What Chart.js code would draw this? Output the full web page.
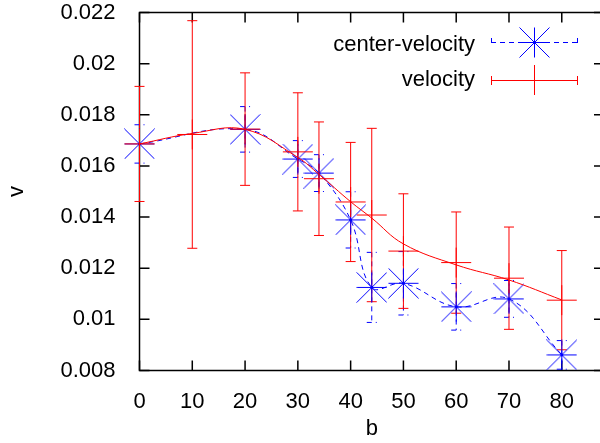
<!DOCTYPE html>
<html>
<head>
<meta charset="utf-8">
<script src="https://cdn.jsdelivr.net/npm/chart.js@4"></script>
<style>
  html, body { margin: 0; padding: 0; overflow: hidden; background: #fff; }
  canvas { display: block; }
</style>
</head>
<body>
<canvas id="chart" width="610" height="443" style="width:610px;height:443px"></canvas>
<script>
// ----- DATA -----
// velocity: points with y error bars, plus the smoothed red curve read along its path
const bVelocity = [0, 10, 20, 30, 34, 40, 44, 50, 60, 70, 80]
const velocity = [0.01686, 0.01723, 0.01744, 0.01655, 0.01550, 0.01459, 0.01408, 0.01267, 0.01222, 0.01161, 0.01075]
const velocityErr = [0.00225, 0.00445, 0.00220, 0.00231, 0.00222, 0.00233, 0.00339, 0.00224, 0.00198, 0.00200, 0.00194]
const velocityCurve = [0.01686, 0.01727, 0.01743, 0.01633, 0.01567, 0.01460, 0.01396, 0.01295, 0.01213, 0.01154, 0.01076]

// center-velocity: points with y error bars joined by a dashed line
const bCenter = [0, 20, 30, 34, 40, 44, 50, 60, 70, 80]
const centerVelocity = [0.01686, 0.01743, 0.01627, 0.01572, 0.01389, 0.01125, 0.01141, 0.01049, 0.01080, 0.00861]
const centerVelocityErr = [0.00075, 0.00089, 0.00072, 0.00072, 0.00110, 0.00137, 0.00124, 0.00091, 0.00072, 0.00056]

const yTickLabels = ['0.008', '0.01', '0.012', '0.014', '0.016', '0.018', '0.02', '0.022']

const RED = '#ff0000'
const BLUE = '#0000ff'
const FONT = '"Liberation Sans", Arial, sans-serif'

Chart.defaults.font.family = FONT
Chart.defaults.font.size = 22
Chart.defaults.color = '#000'

// ----- HELPERS -----
const toXY = (xs, ys) => xs.map((x, i) => ({ x, y: ys[i] }))

// gnuplot style "*" point: + and x, diagonals reaching the square corners
function makeStar(r, color) {
  const c = document.createElement('canvas')
  const s = 2 * r + 1
  c.width = s
  c.height = s
  const g = c.getContext('2d')
  g.strokeStyle = color
  g.lineWidth = 1
  const m = r + 0.5
  g.beginPath()
  g.moveTo(0.5, m); g.lineTo(s - 0.5, m)
  g.moveTo(m, 0.5); g.lineTo(m, s - 0.5)
  g.moveTo(0.5, 0.5); g.lineTo(s - 0.5, s - 0.5)
  g.moveTo(s - 0.5, 0.5); g.lineTo(0.5, s - 0.5)
  g.stroke()
  return c
}
const starImg = makeStar(15, BLUE)

function drawErrorBars(ctx, xs, ys, bs, vals, errs, color, dash) {
  ctx.save()
  ctx.strokeStyle = color
  ctx.lineWidth = 1
  ctx.setLineDash(dash)
  bs.forEach((b, i) => {
    const px = xs.getPixelForValue(b)
    const top = ys.getPixelForValue(vals[i] + errs[i])
    const bot = ys.getPixelForValue(vals[i] - errs[i])
    ctx.beginPath()
    ctx.moveTo(px, top); ctx.lineTo(px, bot)
    ctx.moveTo(px - 5, top); ctx.lineTo(px + 5, top)
    ctx.moveTo(px - 5, bot); ctx.lineTo(px + 5, bot)
    ctx.stroke()
  })
  ctx.restore()
}

// ----- PLUGINS -----
// border with inward ticks on all four sides
const frame = {
  id: 'frame',
  beforeDatasetsDraw(chart) {
    const { ctx, chartArea: a, scales: { x, y } } = chart
    ctx.save()
    ctx.strokeStyle = '#000'
    ctx.lineWidth = 1.5
    ctx.strokeRect(a.left, a.top, a.right - a.left, a.bottom - a.top)
    ctx.beginPath()
    x.ticks.forEach((t) => {
      const px = x.getPixelForValue(t.value)
      ctx.moveTo(px, a.bottom); ctx.lineTo(px, a.bottom - 10)
      ctx.moveTo(px, a.top); ctx.lineTo(px, a.top + 10)
    })
    y.ticks.forEach((t) => {
      const py = y.getPixelForValue(t.value)
      ctx.moveTo(a.left, py); ctx.lineTo(a.left + 10, py)
      ctx.moveTo(a.right, py); ctx.lineTo(a.right - 10, py)
    })
    ctx.stroke()
    ctx.restore()
  },
}

const errorBars = {
  id: 'errorBars',
  beforeDatasetsDraw(chart) {
    const { ctx, scales: { x, y } } = chart
    drawErrorBars(ctx, x, y, bCenter, centerVelocity, centerVelocityErr, BLUE, [5, 4])
    drawErrorBars(ctx, x, y, bVelocity, velocity, velocityErr, RED, [])
  },
}

// gnuplot style key: right aligned text, then a line sample with caps and the point
const key = {
  id: 'key',
  afterDraw(chart) {
    const { ctx } = chart
    const rows = [
      { text: 'center-velocity', y: 42, ty: 45, color: BLUE, dash: [5, 4] },
      { text: 'velocity', y: 80, ty: 80, color: RED, dash: [] },
    ]
    const x0 = 491, x1 = 577, xm = 534
    ctx.save()
    ctx.font = '22px ' + FONT
    ctx.fillStyle = '#000'
    ctx.textAlign = 'right'
    ctx.textBaseline = 'middle'
    rows.forEach((r) => {
      ctx.fillText(r.text, 475, r.ty)
      ctx.strokeStyle = r.color
      ctx.lineWidth = 1
      ctx.setLineDash(r.dash)
      ctx.beginPath()
      ctx.moveTo(x0, r.y + 0.5); ctx.lineTo(x1, r.y + 0.5)
      ctx.moveTo(x0 + 0.5, r.y - 4); ctx.lineTo(x0 + 0.5, r.y + 5)
      ctx.moveTo(x1 + 0.5, r.y - 4); ctx.lineTo(x1 + 0.5, r.y + 5)
      ctx.stroke()
      ctx.setLineDash([])
      if (r.color === BLUE) {
        ctx.drawImage(starImg, xm - 15, r.y - 15)
      } else {
        ctx.beginPath()
        ctx.moveTo(xm - 15, r.y + 0.5); ctx.lineTo(xm + 15, r.y + 0.5)
        ctx.moveTo(xm + 0.5, r.y - 15); ctx.lineTo(xm + 0.5, r.y + 15)
        ctx.stroke()
      }
    })
    ctx.restore()
  },
}

// ----- CHART -----
const ctx = document.getElementById('chart').getContext('2d')
new Chart(ctx, {
  type: 'line',
  data: {
    datasets: [
      {
        label: 'velocity',
        data: toXY(bVelocity, velocity),
        showLine: false,
        pointStyle: 'cross',
        pointRadius: 15,
        pointBorderColor: RED,
        pointBorderWidth: 1,
        clip: false,
      },
      {
        label: 'velocity (smoothed)',
        data: toXY(bVelocity, velocityCurve),
        borderColor: RED,
        borderWidth: 1,
        pointRadius: 0,
        tension: 0.4,
        clip: false,
      },
      {
        label: 'center-velocity',
        data: toXY(bCenter, centerVelocity),
        borderColor: BLUE,
        borderWidth: 1,
        borderDash: [5, 4],
        tension: 0.4,
        pointStyle: starImg,
        pointRadius: 15,
        clip: false,
      },
    ],
  },
  options: {
    responsive: false,
    animation: false,
    events: [],
    layout: { autoPadding: false, padding: { left: 0, right: 6, top: 12.5, bottom: 0 } },
    plugins: { legend: { display: false }, tooltip: { enabled: false } },
    scales: {
      x: {
        type: 'linear',
        min: 0,
        max: 88,
        ticks: { stepSize: 10, includeBounds: false, padding: 10, color: '#000' },
        grid: { display: false },
        border: { display: false },
        title: { display: true, text: 'b', color: '#000', padding: { top: 0, bottom: 1 } },
        afterFit(s) {
          s.height = 72.5
          s.paddingLeft = 0
          s.paddingRight = 0
        },
      },
      y: {
        min: 0.008,
        max: 0.022,
        ticks: {
          stepSize: 0.002,
          padding: 16,
          color: '#000',
          callback: (v, i) => yTickLabels[i],
        },
        grid: { display: false },
        border: { display: false },
        title: { display: true, text: 'v', color: '#000', padding: { top: 4, bottom: 0 } },
        afterFit(s) {
          s.width = 139.5
          s.paddingTop = 0
          s.paddingBottom = 0
        },
      },
    },
  },
  plugins: [frame, errorBars, key],
})
</script>
</body>
</html>
